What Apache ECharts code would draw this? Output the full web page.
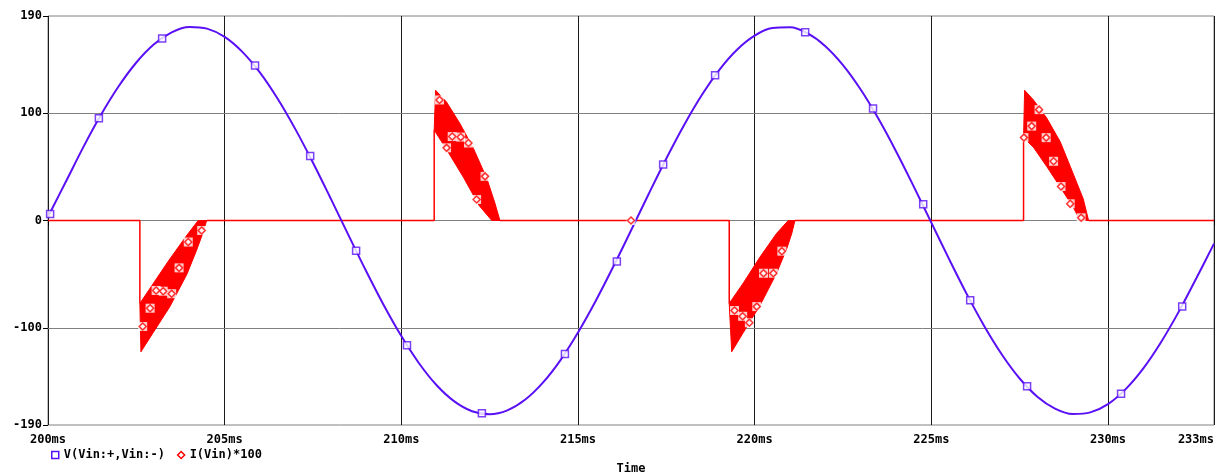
<!DOCTYPE html>
<html><head><meta charset="utf-8">
<script src="https://cdn.jsdelivr.net/npm/echarts@6/dist/echarts.min.js"></script>
<style>html,body{margin:0;padding:0;background:#fff}#c{width:1222px;height:473px}</style>
</head><body><div id="c"></div>
<script>
// ---- data ----
const xTicks = [200, 205, 210, 215, 220, 225, 230, 233];
const yTicks = [-190, -100, 0, 100, 190];
const yGrid = [-100, 0, 100];

const vTime = [200,200.5,201,201.5,202,202.5,203,203.5,204,204.5,205,205.5,206,206.5,207,207.5,208,208.5,209,209.5,
  210,210.5,211,211.5,212,212.5,213,213.5,214,214.5,215,215.5,216,216.5,217,217.5,218,218.5,219,219.5,
  220,220.5,221,221.5,222,222.5,223,223.5,224,224.5,225,225.5,226,226.5,227,227.5,228,228.5,229,229.5,
  230,230.5,231,231.5,232,232.5,233];
const vValue = [3.5,35.7,68.2,98.2,124.7,146.8,163.7,174.8,179.8,178.3,170.6,156.7,137.4,113.1,84.9,53.7,20.5,
  -13.3,-46.7,-78.5,-107.4,-132.6,-153.1,-168.1,-177.2,-180.0,-176.4,-166.6,-150.9,-129.9,-104.1,-74.8,-42.8,-9.3,
  24.6,57.6,88.5,116.3,140.0,158.7,171.8,178.8,179.5,173.8,162.0,144.4,121.7,94.7,64.4,31.7,-2.0,
  -35.7,-68.2,-98.2,-124.7,-146.8,-163.7,-174.8,-179.8,-178.3,-170.6,-156.7,-137.4,-113.1,-84.9,-53.7,-21.5];
const vMarkers = [[200.06,6],[201.44,95],[203.23,169],[205.86,144],[207.42,60],[208.72,-28],[210.16,-116],
  [212.28,-179],[214.63,-124],[216.10,-38],[217.41,52],[218.88,135],[221.43,175],[223.35,104],[224.77,15],
  [226.10,-74],[227.71,-154],[230.37,-161],[232.10,-80]];

// thin current trace (0 level and the steps into each pulse); null = break
const iLine = [[200,0],[202.60,0],[202.60,-77],[203.5,null],[204.49,0],[210.93,0],[210.93,84],[211.8,null],
  [212.79,0],[219.28,0],[219.28,-77],[220.2,null],[221.14,0],[227.61,0],[227.61,77],[228.5,null],[229.45,0],[233,0]];

// envelopes of the fast-oscillating current bursts (outer = larger magnitude)
const p1Outer = [[202.60,-77],[202.63,-122],[202.98,-104],[203.45,-80],[203.93,-50],[204.20,-28],[204.38,-12],[204.49,0]];
const p1Inner = [[202.60,-77],[202.95,-60],[203.40,-38],[203.90,-15],[204.25,0]];
const p2Outer = [[210.93,84],[210.97,121],[211.28,110],[211.66,90],[212.04,67],[212.42,39],[212.65,16],[212.79,0]];
const p2Inner = [[210.93,84],[211.28,66],[211.76,40],[212.20,14],[212.56,0]];
const p3Outer = [[219.28,-77],[219.35,-122],[219.68,-104],[220.15,-79],[220.62,-49],[220.91,-26],[221.05,-12],[221.14,0]];
const p3Inner = [[219.28,-77],[219.68,-58],[220.15,-34],[220.62,-12],[220.95,0]];
const p4Outer = [[227.61,77],[227.64,121],[227.89,112],[228.27,95],[228.65,73],[229.02,43],[229.30,20],[229.45,0]];
const p4Inner = [[227.61,77],[227.89,68],[228.27,50],[228.65,31],[229.02,12],[229.21,0]];

const iMarkers = [[202.68,-98.5],[202.89,-81.5],[203.06,-65],[203.26,-65.7],[203.50,-68],[203.71,-44],[203.97,-20],[204.35,-9.3],
  [211.08,112],[211.44,78],[211.68,77.5],[211.90,72],[211.28,67.5],[212.37,41],[212.13,19.5],
  [216.50,0],
  [219.43,-83.6],[219.66,-89],[219.85,-95],[220.06,-80],[220.25,-49],[220.53,-49],[220.77,-28.5],
  [228.05,103],[227.84,87.7],[227.62,77],[228.25,77],[228.46,55],[228.67,31.6],[228.93,15.5],[229.24,2.5]];

const vName = 'V(Vin:+,Vin:-)';
const iName = 'I(Vin)*100';
// ---------------------------------------

const pulses = [{outer:p1Outer,inner:p1Inner},{outer:p2Outer,inner:p2Inner},{outer:p3Outer,inner:p3Inner},{outer:p4Outer,inner:p4Inner}];
const font = '"DejaVu Sans Mono", "Liberation Mono", monospace';
const VC = '#5a10f5', IC = '#ff0000';
const txt = {fontFamily: font, fontWeight: 'bold', fontSize: 12, color: '#000'};

const chart = echarts.init(document.getElementById('c'));
chart.setOption({
  animation: false,
  backgroundColor: '#fff',
  textStyle: {fontFamily: font, fontWeight: 'bold'},
  grid: {left: 48, right: 8, top: 16, bottom: 48, show: true, borderColor: '#808080', borderWidth: 1,
         containLabel: false, outerBoundsMode: 'none'},
  legend: {
    left: 46, top: 444, itemGap: 12, itemWidth: 7, itemHeight: 7,
    textStyle: txt,
    data: [
      {name: vName, icon: 'rect', itemStyle: {color: '#fff', borderColor: VC, borderWidth: 1.5}},
      {name: iName, icon: 'diamond', itemStyle: {color: '#fff', borderColor: IC, borderWidth: 1.5}}
    ]
  },
  xAxis: {
    type: 'value', min: 200, max: 233, interval: 5,
    name: 'Time', nameLocation: 'middle', nameGap: 38, nameTextStyle: txt,
    axisLine: {show: false},
    axisTick: {show: true, length: 5, customValues: xTicks, lineStyle: {color: '#000'}},
    axisLabel: Object.assign({customValues: xTicks, formatter: v => v + 'ms', margin: 9, alignMaxLabel: 'right'}, txt),
    splitLine: {show: true, lineStyle: {color: '#1a1a1a', width: 1}}
  },
  yAxis: {
    type: 'value', min: -190, max: 190,
    axisLine: {show: false},
    axisTick: {show: true, length: 5, customValues: yTicks, lineStyle: {color: '#000'}},
    axisLabel: Object.assign({customValues: yTicks, margin: 6}, txt),
    splitLine: {show: false}
  },
  series: [
    {type: 'line', data: [], z: 1, silent: true,
     markLine: {z: 1, silent: true, symbol: 'none', label: {show: false}, animation: false,
       lineStyle: {color: '#808080', width: 1, type: 'solid'},
       data: yGrid.map(v => ({yAxis: v}))}},
    {type: 'line', name: iName, data: iLine, z: 2, showSymbol: false, connectNulls: false,
     lineStyle: {color: IC, width: 1.5}, itemStyle: {color: IC}},
    {type: 'custom', name: iName, z: 3,
     data: pulses.map((p, i) => [p.outer[0][0], p.outer[0][1], i]),
     encode: {x: 0, y: 1},
     renderItem: (params, api) => {
       const p = pulses[api.value(2)];
       const pts = p.outer.map(d => api.coord(d)).concat(p.inner.slice().reverse().map(d => api.coord(d)));
       return {type: 'polygon', shape: {points: pts}, style: {fill: IC, stroke: IC, lineWidth: 1}};
     }},
    {type: 'line', name: vName, data: vTime.map((t, i) => [t, vValue[i]]), z: 4, smooth: 0.35,
     showSymbol: false, lineStyle: {color: VC, width: 2}, itemStyle: {color: VC}},
    {type: 'scatter', name: vName, data: vMarkers, z: 5, symbol: 'rect', symbolSize: 7,
     itemStyle: {color: '#fff', borderColor: VC, borderWidth: 1.5}},
    {type: 'scatter', name: iName, data: iMarkers, z: 5, symbol: 'rect', symbolSize: 9,
     itemStyle: {color: '#fff'}},
    {type: 'scatter', name: iName, data: iMarkers, z: 6, symbol: 'diamond', symbolSize: 7,
     itemStyle: {color: '#fff', borderColor: IC, borderWidth: 1.5}}
  ]
});
</script></body></html>
